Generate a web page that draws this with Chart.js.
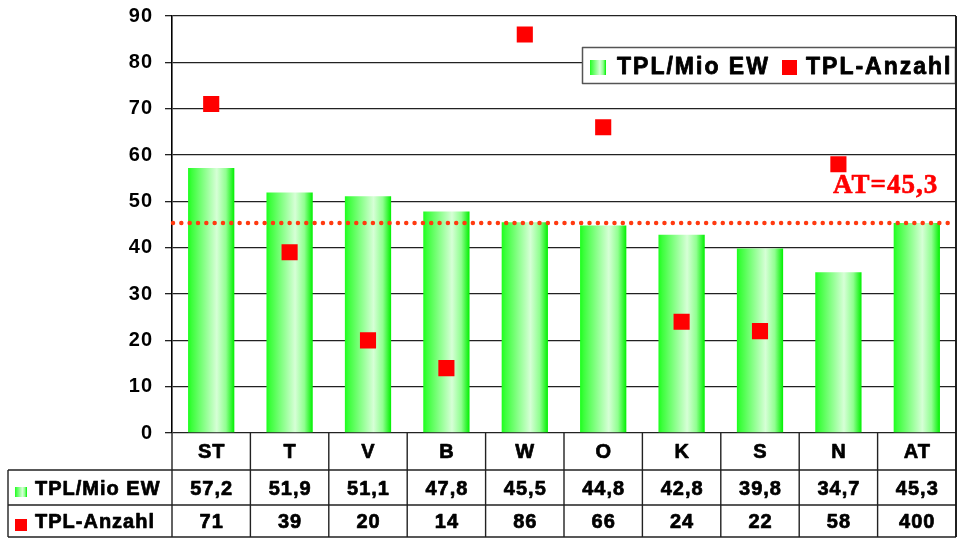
<!DOCTYPE html>
<html><head><meta charset="utf-8">
<script src="https://cdn.jsdelivr.net/npm/chart.js@4/dist/chart.umd.min.js"></script>
<style>html,body{margin:0;padding:0;background:#fff;overflow:hidden}#wrap{width:958px;height:538px;position:relative}</style>
</head><body><div id="wrap"><canvas id="c" width="958" height="538"></canvas></div>
<script>
const categories = ['ST','T','V','B','W','O','K','S','N','AT'];
const tplPerMioEW = [57.2,51.9,51.1,47.8,45.5,44.8,42.8,39.8,34.7,45.3];
const tplAnzahl = [71,39,20,14,86,66,24,22,58,400];
const seriesNames = ['TPL/Mio EW','TPL-Anzahl'];
const atAverage = 45.3;
const atLabel = 'AT=45,3';
const yMin = 0, yMax = 90, yStep = 10;

const BAR_PCT = 0.59;
const FONT = '"Liberation Sans", Arial, sans-serif';

function greenGrad(ctx, x0, x1){
  const g = ctx.createLinearGradient(x0,0,x1,0);
  g.addColorStop(0,'#1cff1c');
  g.addColorStop(0.08,'#3cff3c');
  g.addColorStop(0.62,'#d6ffd6');
  g.addColorStop(0.82,'#90ff90');
  g.addColorStop(1,'#00f000');
  return g;
}

const fmt1 = v => v.toFixed(1).replace('.',',');
const fmt0 = v => String(v);

function boldText(ctx, t, x, y, w){
  ctx.lineWidth = w;
  ctx.strokeStyle = ctx.fillStyle;
  ctx.lineJoin = 'round';
  ctx.strokeText(t, x, y);
  ctx.fillText(t, x, y);
}

const extras = {
  id:'extras',
  beforeDraw(chart){
    chart.ctx.letterSpacing = '1px';
  },
  afterDatasetsDraw(chart){
    const ctx = chart.ctx, a = chart.chartArea, ys = chart.scales.y;
    const yy = ys.getPixelForValue(atAverage);
    ctx.save();
    ctx.strokeStyle = '#ff3a10';
    ctx.lineWidth = 4.5;
    ctx.lineCap = 'round';
    ctx.setLineDash([0, 8.33]);
    ctx.beginPath();
    ctx.moveTo(a.left + 1, yy);
    ctx.lineTo(a.right, yy);
    ctx.stroke();
    ctx.setLineDash([]);
    ctx.fillStyle = '#ff0000';
    ctx.font = 'bold 27px "Liberation Serif", "Times New Roman", serif';
    ctx.letterSpacing = '1px';
    ctx.textAlign = 'left';
    ctx.textBaseline = 'alphabetic';
    ctx.lineCap = 'butt';
    boldText(ctx, atLabel, 833, yy - 30, 0.6);
    ctx.restore();
  },
  afterDraw(chart){
    const ctx = chart.ctx, a = chart.chartArea, xs = chart.scales.x;
    const n = categories.length;
    const colW = (a.right - a.left) / n;
    const r1 = 470, r2 = 505, r3 = 537, tableLeft = 8;
    ctx.save();
    ctx.letterSpacing = '0px';
    ctx.strokeStyle = '#222';
    ctx.lineWidth = 1.4;
    ctx.beginPath();
    ctx.moveTo(a.right, a.top); ctx.lineTo(a.right, r3);
    for (let i = 0; i <= n; i++){
      const x = (i < n ? xs.getPixelForValue(i) - colW/2 : xs.getPixelForValue(n-1) + colW/2);
      ctx.moveTo(x, a.bottom); ctx.lineTo(x, r3);
    }
    ctx.moveTo(tableLeft, r1); ctx.lineTo(tableLeft, r3);
    [r1, r2, r3].forEach(r => { ctx.moveTo(tableLeft, r); ctx.lineTo(a.right, r); });
    ctx.stroke();

    ctx.fillStyle = '#000';
    ctx.font = 'bold 20px ' + FONT;
    ctx.letterSpacing = '1px';
    ctx.textAlign = 'center';
    ctx.textBaseline = 'middle';
    categories.forEach((c, i) => {
      const x = xs.getPixelForValue(i) + 0.5;
      boldText(ctx, c, x, 452, 0.7);
      boldText(ctx, fmt1(tplPerMioEW[i]), x, 489, 0.7);
      boldText(ctx, fmt0(tplAnzahl[i]), x, 522, 0.7);
    });
    ctx.fillStyle = greenGrad(ctx, 15, 27);
    ctx.fillRect(15, 487, 12, 10);
    ctx.fillStyle = '#ff0000';
    ctx.fillRect(15, 519, 12, 12);
    ctx.fillStyle = '#000';
    ctx.textAlign = 'left';
    boldText(ctx, seriesNames[0], 35, 489, 0.7);
    boldText(ctx, seriesNames[1], 35, 522, 0.7);

    // legend
    ctx.letterSpacing = '0px';
    ctx.fillStyle = '#fff';
    ctx.fillRect(582, 47, 374, 37);
    ctx.strokeStyle = '#555';
    ctx.lineWidth = 1.5;
    ctx.strokeRect(582.5, 47.5, 373, 36);
    ctx.fillStyle = greenGrad(ctx, 590, 606);
    ctx.fillRect(590, 60, 16, 15);
    ctx.fillStyle = '#ff0000';
    ctx.fillRect(782, 60, 15, 15);
    ctx.fillStyle = '#000';
    ctx.font = 'bold 23px ' + FONT;
    ctx.letterSpacing = '2px';
    ctx.textBaseline = 'middle';
    boldText(ctx, seriesNames[0], 617, 68, 0.8);
    boldText(ctx, seriesNames[1], 806, 68, 0.8);
    ctx.letterSpacing = '0px';
    ctx.strokeStyle = '#111';
    ctx.lineWidth = 1.6;
    ctx.beginPath(); ctx.moveTo(a.right, a.top); ctx.lineTo(a.right, r3); ctx.stroke();
    ctx.restore();
  }
};

new Chart(document.getElementById('c'), {
  type: 'bar',
  data: {
    labels: categories,
    datasets: [
      {
        type: 'line',
        label: seriesNames[1],
        data: tplAnzahl,
        showLine: false,
        pointStyle: 'rect',
        pointRadius: 11.4,
        pointHoverRadius: 11.4,
        pointBackgroundColor: '#ff0000',
        pointBorderWidth: 0,
        borderWidth: 0,
        order: 1
      },
      {
        type: 'bar',
        label: seriesNames[0],
        data: tplPerMioEW,
        barPercentage: BAR_PCT,
        categoryPercentage: 1,
        borderWidth: 0,
        backgroundColor: (c) => {
          const chart = c.chart, xs = chart.scales.x;
          if (!xs || c.dataIndex == null || !chart.chartArea) return '#3f3';
          const cx = xs.getPixelForValue(c.dataIndex);
          const w = (chart.chartArea.right - chart.chartArea.left) / categories.length * BAR_PCT;
          return greenGrad(chart.ctx, cx - w/2, cx + w/2);
        },
        order: 2
      }
    ]
  },
  options: {
    responsive: false,
    devicePixelRatio: 1,
    animation: false,
    events: [],
    layout: { autoPadding: false, padding: { top: 16, right: 2, bottom: 105, left: 0 } },
    plugins: { legend: { display: false }, tooltip: { enabled: false } },
    scales: {
      x: { display: false, offset: true },
      y: {
        min: yMin, max: yMax,
        afterFit(s){ s.width = 172; s.paddingTop = 0; s.paddingBottom = 0; },
        ticks: { stepSize: yStep, color: '#000', padding: 12, font: { family: FONT, size: 20, weight: 'bold' } },
        grid: { color: '#222', lineWidth: 1.3, tickLength: 7, drawTicks: true },
        border: { display: true, color: '#000', width: 1.6 }
      }
    }
  },
  plugins: [extras]
});
</script>
</body></html>
